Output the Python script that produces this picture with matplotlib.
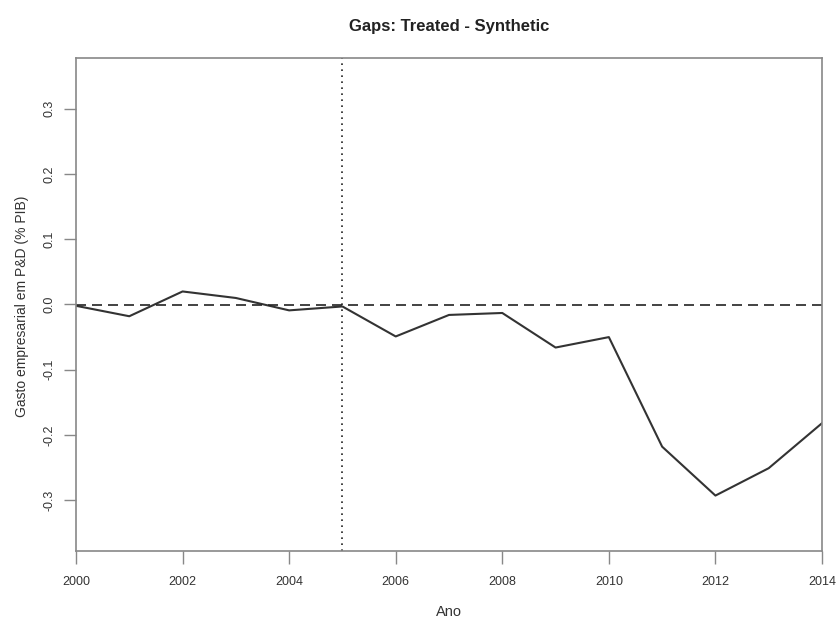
import numpy as np
import matplotlib.pyplot as plt

plt.rcParams['font.family'] = ['Liberation Sans', 'DejaVu Sans']

# gap between treated unit and its synthetic control
years = np.arange(2000, 2015)
gap = [-0.002, -0.018, 0.020, 0.010, -0.009, -0.003, -0.049, -0.016,
       -0.013, -0.066, -0.050, -0.218, -0.293, -0.251, -0.182]
treat_year = 2005

fig = plt.figure(figsize=(8.39, 6.19), dpi=100)
ax = fig.add_axes([76/839, 1 - 551/619, (822 - 76)/839, (551 - 58)/619])

ax.plot(years, gap, color='#333333', lw=1.5)
ax.axhline(0, color='#222222', lw=1.2, ls=(0, (6, 3.6)))
ax.axvline(treat_year, color='#222222', lw=1.2, ls=(0, (1, 2.6)))

ax.set_xlim(2000, 2014)
ax.set_ylim(-0.378, 0.378)
ax.set_xticks(np.arange(2000, 2015, 2))
ax.set_yticks(np.arange(-0.3, 0.31, 0.1))
ax.set_yticklabels([f'{v:.1f}' for v in np.arange(-0.3, 0.31, 0.1)],
                   rotation=90, va='center')

for s in ax.spines.values():
    s.set_color('#888888')
    s.set_linewidth(1.2)
ax.tick_params(colors='#888888', labelcolor='#333333', labelsize=9,
               length=9, width=1.0)
ax.tick_params(axis='x', pad=9)
ax.tick_params(axis='y', pad=6)

xc = (76 + 822) / 2 / 839
fig.text(xc, 1 - 26/619, 'Gaps: Treated - Synthetic', ha='center', va='center',
         fontsize=12, fontweight='bold', color='#222222')
fig.text(xc, 1 - 612/619, 'Ano', ha='center', va='center',
         fontsize=10.5, color='#333333')
fig.text(22/839, 1 - 306/619, 'Gasto empresarial em P&D (% PIB)', rotation=90,
         ha='center', va='center', fontsize=10, color='#333333')

fig.savefig('out.png', dpi=100)
